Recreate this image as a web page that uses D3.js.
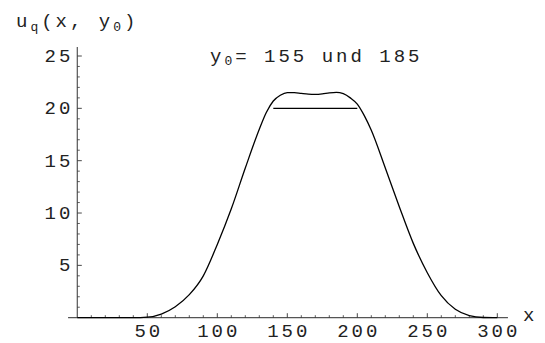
<!DOCTYPE html>
<html>
<head>
<meta charset="utf-8">
<script src="https://cdn.jsdelivr.net/npm/d3@7"></script>
<style>
  html, body { margin: 0; padding: 0; background: #fff; }
  svg { display: block; }
  text { font-family: "Liberation Mono", "DejaVu Sans Mono", monospace; fill: #222; letter-spacing: 3px; }
</style>
</head>
<body>
<svg id="chart" width="545" height="343"></svg>
<script>
// Profile u_q(x, y0) sampled along x
const xs = [0, 10, 20, 30, 40, 50, 60, 70, 80, 90, 100, 110, 120, 130, 135, 140, 145, 150, 155, 160,
            165, 170, 175, 180, 185, 190, 195, 200, 205, 210, 220, 230, 240, 250, 260, 270, 280, 290, 300];
const us = [0, 0, 0, 0, 0, 0.05, 0.35, 1.05, 2.2, 4.0, 7.0, 10.4, 14.3, 18.0, 19.6, 20.7, 21.25, 21.5, 21.5, 21.42,
            21.35, 21.33, 21.38, 21.48, 21.53, 21.4, 21.0, 20.4, 19.3, 17.9, 14.3, 10.6, 7.1, 4.3, 2.1, 0.8, 0.2, 0.02, 0];

// Reference level drawn as a flat segment
const levelX = [140, 200];
const levelU = 20;

const xTicks = [50, 100, 150, 200, 250, 300];
const yTicks = [5, 10, 15, 20, 25];

const svg = d3.select("#chart");

const x = d3.scaleLinear().domain([0, 300]).range([77.3, 497.3]);
const y = d3.scaleLinear().domain([0, 25]).range([317.7, 56]);

const axisColor = "#555";
const ls = 3; // letter spacing, trails each glyph

// x axis line
svg.append("line")
  .attr("x1", x(-6.6)).attr("x2", x(307.6))
  .attr("y1", y(0)).attr("y2", y(0))
  .attr("stroke", axisColor).attr("stroke-width", 1.2);

// y axis line
svg.append("line")
  .attr("x1", x(0)).attr("x2", x(0))
  .attr("y1", y(25.85)).attr("y2", y(0))
  .attr("stroke", axisColor).attr("stroke-width", 1.2);

// x ticks (major every 50, minor every 10), drawn inward
const xMinor = d3.range(10, 301, 10).filter(v => v % 50 !== 0);
svg.append("g").selectAll("line").data(xMinor).join("line")
  .attr("x1", d => x(d)).attr("x2", d => x(d))
  .attr("y1", y(0)).attr("y2", y(0) - 2.5)
  .attr("stroke", "#333").attr("stroke-width", 0.8);
svg.append("g").selectAll("line").data(xTicks).join("line")
  .attr("x1", d => x(d)).attr("x2", d => x(d))
  .attr("y1", y(0)).attr("y2", y(0) - 4.5)
  .attr("stroke", "#333").attr("stroke-width", 0.9);

// y ticks (major every 5, minor every 1), drawn inward
const yMinor = d3.range(1, 26, 1).filter(v => v % 5 !== 0);
svg.append("g").selectAll("line").data(yMinor).join("line")
  .attr("x1", x(0)).attr("x2", x(0) + 2.5)
  .attr("y1", d => y(d)).attr("y2", d => y(d))
  .attr("stroke", "#333").attr("stroke-width", 0.8);
svg.append("g").selectAll("line").data(yTicks).join("line")
  .attr("x1", x(0)).attr("x2", x(0) + 4.5)
  .attr("y1", d => y(d)).attr("y2", d => y(d))
  .attr("stroke", "#333").attr("stroke-width", 0.9);

const fs = 19;

// tick labels
svg.append("g").selectAll("text").data(xTicks).join("text")
  .attr("x", d => x(d) + ls / 2).attr("y", y(0) + 19)
  .attr("text-anchor", "middle")
  .attr("font-size", fs)
  .text(d => d);

svg.append("g").selectAll("text").data(yTicks).join("text")
  .attr("x", x(0) - 7 + ls).attr("y", d => y(d) + 6)
  .attr("text-anchor", "end")
  .attr("font-size", fs)
  .text(d => d);

// axis labels
svg.append("text").attr("x", 523).attr("y", 321).attr("font-size", fs).text("x");

const yl = svg.append("text").attr("x", 16).attr("y", 27).attr("font-size", fs);
yl.append("tspan").text("u");
yl.append("tspan").attr("font-size", 13).attr("dy", 4).text("q");
yl.append("tspan").attr("dy", -4).text("(x, y");
yl.append("tspan").attr("font-size", 13).attr("dy", 4).text("0");
yl.append("tspan").attr("dy", -4).text(")");

// plot label
const pl = svg.append("text").attr("x", 210).attr("y", 62).attr("font-size", fs);
pl.append("tspan").text("y");
pl.append("tspan").attr("font-size", 13).attr("dy", 3).text("0");
pl.append("tspan").attr("dy", -3).text("= 155 und 185");

// profile curve
const line = d3.line()
  .x((d, i) => x(xs[i]))
  .y(d => y(d))
  .curve(d3.curveMonotoneX);

svg.append("path")
  .attr("d", line(us))
  .attr("fill", "none")
  .attr("stroke", "#000")
  .attr("stroke-width", 1.3);

// level segment
svg.append("line")
  .attr("x1", x(levelX[0])).attr("x2", x(levelX[1]))
  .attr("y1", y(levelU)).attr("y2", y(levelU))
  .attr("stroke", "#000").attr("stroke-width", 1.3);
</script>
</body>
</html>
